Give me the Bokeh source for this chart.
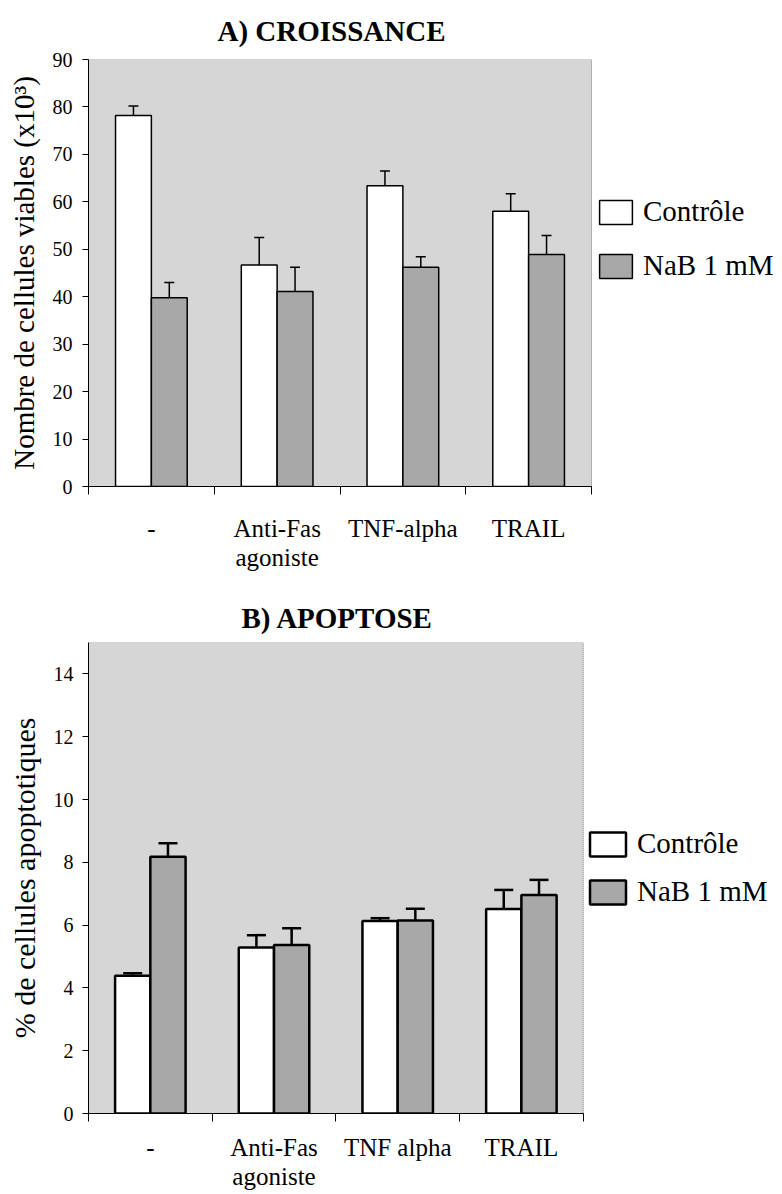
from bokeh.plotting import figure
from bokeh.models import (Range1d, FixedTicker, ColumnDataSource, Whisker, TeeHead,
                          Legend, LegendItem)
from bokeh.layouts import column
from bokeh.embed import file_html
from bokeh.resources import INLINE

# ---------------- data ----------------
series_names = ["Contrôle", "NaB 1 mM"]

categories_a = ["-", "Anti-Fas\nagoniste", "TNF-alpha", "TRAIL"]
controle_a = [78.2, 46.7, 63.4, 58.0]
controle_a_err = [2.0, 5.8, 3.1, 3.7]
nab_a = [39.8, 41.1, 46.2, 48.9]
nab_a_err = [3.2, 5.1, 2.2, 4.0]
yticks_a = [0, 10, 20, 30, 40, 50, 60, 70, 80, 90]

categories_b = ["-", "Anti-Fas\nagoniste", "TNF alpha", "TRAIL"]
controle_b = [4.39, 5.29, 6.13, 6.51]
controle_b_err = [0.08, 0.39, 0.09, 0.61]
nab_b = [8.18, 5.37, 6.15, 6.96]
nab_b_err = [0.43, 0.53, 0.37, 0.48]
yticks_b = [0, 2, 4, 6, 8, 10, 12, 14]

FONT = "'Liberation Serif', serif"
BG = "#d6d6d6"
NAB_COLOR = "#a8a8a8"
FIG_W = 782


def make_chart(title, cats, ctrl, ctrl_err, nab, nab_err, ylabel, ymax, yticks,
               height, border_top, border_bottom, plot_left, plot_right,
               title_standoff, title_offset, ylabel_size, bar_lw, cap_size,
               legend_loc, legend_glyph_w, legend_spacing, tick_standoff,
               xlabel_standoff):
    n = len(cats)
    # the grey plotting area spans the n categories; the rest of the frame
    # (to the right) holds the legend on white
    x_end = n * (FIG_W - plot_left) / (plot_right - plot_left)
    p = figure(width=FIG_W, height=height, output_backend="svg", toolbar_location=None,
               x_range=Range1d(0, x_end), y_range=Range1d(0, ymax),
               min_border_top=border_top, min_border_bottom=border_bottom,
               min_border_left=plot_left, min_border_right=0)
    p.background_fill_color = "white"
    p.border_fill_color = "white"
    p.outline_line_color = None
    p.xgrid.visible = False
    p.ygrid.visible = False

    # grey plot area with dotted top/right edge
    p.quad(left=[0], right=[n], bottom=[0], top=[ymax], fill_color=BG,
           line_color="#777777", line_dash="1 1", line_width=1)

    p.title.text = title
    p.title.align = "left"
    p.title.text_font = FONT
    p.title.text_font_size = "29px"
    p.title.text_font_style = "bold"
    p.title.text_color = "black"
    p.title.standoff = title_standoff
    p.title.offset = title_offset

    half = 0.1425
    w = 0.285
    xc = [i + 0.5 - half for i in range(n)]
    xn = [i + 0.5 + half for i in range(n)]

    src_c = ColumnDataSource(dict(x=xc, top=ctrl,
                                  upper=[v + e for v, e in zip(ctrl, ctrl_err)]))
    src_n = ColumnDataSource(dict(x=xn, top=nab,
                                  upper=[v + e for v, e in zip(nab, nab_err)]))

    r_c = p.vbar(x="x", top="top", bottom=0, width=w, source=src_c,
                 fill_color="white", line_color="black", line_width=bar_lw)
    r_n = p.vbar(x="x", top="top", bottom=0, width=w, source=src_n,
                 fill_color=NAB_COLOR, line_color="black", line_width=bar_lw)

    for src in (src_c, src_n):
        wk = Whisker(base="x", lower="top", upper="upper", source=src,
                     dimension="height", line_color="black", line_width=bar_lw,
                     lower_head=None, level="overlay",
                     upper_head=TeeHead(size=cap_size, line_color="black",
                                        line_width=bar_lw))
        p.add_layout(wk)

    # x axis: labels at category centres, tick marks at boundaries
    xax = p.xaxis[0]
    centers = [i + 0.5 for i in range(n)]
    xax.ticker = FixedTicker(ticks=centers, minor_ticks=list(range(n + 1)))
    xax.bounds = (0, n)
    xax.major_label_overrides = {c: lab for c, lab in zip(centers, cats)}
    xax.major_tick_out = 0
    xax.major_tick_in = 0
    xax.minor_tick_out = 8
    xax.minor_tick_in = 0
    xax.minor_tick_line_color = "black"
    xax.axis_line_color = "black"
    xax.major_label_text_font = FONT
    xax.major_label_text_font_size = "25px"
    xax.major_label_text_line_height = 1.1
    xax.major_label_text_color = "black"
    xax.major_label_standoff = xlabel_standoff

    yax = p.yaxis[0]
    yax.ticker = FixedTicker(ticks=yticks)
    yax.minor_tick_out = 0
    yax.minor_tick_in = 0
    yax.major_tick_out = 6
    yax.major_tick_in = 0
    yax.major_tick_line_color = "black"
    yax.axis_line_color = "black"
    yax.major_label_text_font = FONT
    yax.major_label_text_font_size = "20px"
    yax.major_label_text_color = "black"
    yax.major_label_standoff = tick_standoff
    yax.axis_label = ylabel
    yax.axis_label_text_font = FONT
    yax.axis_label_text_font_size = ylabel_size
    yax.axis_label_text_font_style = "normal"
    yax.axis_label_text_color = "black"
    yax.axis_label_standoff = 10

    legend = Legend(items=[LegendItem(label=series_names[0], renderers=[r_c]),
                           LegendItem(label=series_names[1], renderers=[r_n])],
                    location=legend_loc, orientation="vertical",
                    glyph_width=legend_glyph_w, glyph_height=30, label_height=30,
                    spacing=legend_spacing, padding=0, margin=0,
                    border_line_color=None, background_fill_alpha=0,
                    label_text_font=FONT, label_text_font_size="29px",
                    label_text_color="black", label_standoff=7)
    p.add_layout(legend)
    return p


p1 = make_chart("A) CROISSANCE", categories_a, controle_a, controle_a_err, nab_a, nab_a_err,
                "Nombre de cellules viables (x10³)", 90, yticks_a,
                height=590, border_top=59, border_bottom=104, plot_left=88,
                plot_right=591, title_standoff=25, title_offset=129,
                ylabel_size="29px", bar_lw=1.5, cap_size=10,
                legend_loc=(507, 204), legend_glyph_w=41, legend_spacing=21,
                tick_standoff=10, xlabel_standoff=20)

p2 = make_chart("B) APOPTOSE", categories_b, controle_b, controle_b_err, nab_b, nab_b_err,
                "% de cellules apoptotiques", 15, yticks_b,
                height=604, border_top=52, border_bottom=81, plot_left=82,
                plot_right=581, title_standoff=18, title_offset=153,
                ylabel_size="30px", bar_lw=2.5, cap_size=19,
                legend_loc=(497, 205), legend_glyph_w=45, legend_spacing=15,
                tick_standoff=9, xlabel_standoff=12)

layout = column(p1, p2, spacing=0)
open("out.html", "w").write(file_html(layout, INLINE))
